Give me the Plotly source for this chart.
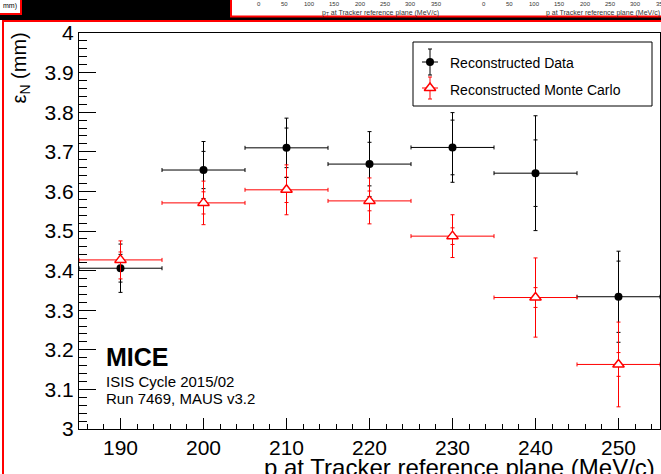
import plotly.graph_objects as go

# ---------------- data ----------------
p_vals = [190, 200, 210, 220, 230, 240, 250]
p_half_width = [5, 5, 5, 5, 5, 5, 5]

data_eps = [3.406, 3.654, 3.710, 3.669, 3.711, 3.646, 3.334]
data_stat = [0.035, 0.047, 0.050, 0.055, 0.069, 0.084, 0.090]
data_tot = [0.061, 0.072, 0.075, 0.082, 0.088, 0.145, 0.115]

mc_eps = [3.427, 3.571, 3.604, 3.576, 3.487, 3.332, 3.163]
mc_stat = [0.020, 0.028, 0.032, 0.025, 0.021, 0.025, 0.030]
mc_tot = [0.048, 0.055, 0.063, 0.058, 0.054, 0.100, 0.107]

y_tickvals = [3.0, 3.1, 3.2, 3.3, 3.4, 3.5, 3.6, 3.7, 3.8, 3.9, 4.0]
y_ticktext = ["3", "3.1", "3.2", "3.3", "3.4", "3.5", "3.6", "3.7", "3.8", "3.9", "4"]
x_tickvals = [190, 200, 210, 220, 230, 240, 250]
x_ticktext = ["190", "200", "210", "220", "230", "240", "250"]

top_tick_labels = ["0", "50", "100", "150", "200", "250", "300", "350"]

# ---------------- layout helpers (pixel -> paper) ----------------
W, H = 661, 474
L, R, T, B = 79, 660, 33, 429


def px(x):
    return (x - L) / (R - L)


def py(y):
    return (B - y) / (B - T)


FONT = "Liberation Sans, Arial, Helvetica, sans-serif"

fig = go.Figure()

# stat (inner) error bars
fig.add_trace(go.Scatter(
    x=p_vals, y=data_eps, mode="markers", showlegend=False,
    marker=dict(color="rgba(0,0,0,0)", size=1),
    error_y=dict(type="data", array=data_stat, color="black", thickness=1, width=2),
))
fig.add_trace(go.Scatter(
    x=p_vals, y=mc_eps, mode="markers", showlegend=False,
    marker=dict(color="rgba(0,0,0,0)", size=1),
    error_y=dict(type="data", array=mc_stat, color="red", thickness=1, width=2),
))
# total errors + markers
fig.add_trace(go.Scatter(
    x=p_vals, y=data_eps, mode="markers", name="Reconstructed Data", showlegend=False,
    marker=dict(color="black", size=8, symbol="circle"),
    error_y=dict(type="data", array=data_tot, color="black", thickness=1, width=2),
    error_x=dict(type="data", array=p_half_width, color="black", thickness=1, width=2),
))
fig.add_trace(go.Scatter(
    x=p_vals, y=mc_eps, mode="markers", name="Reconstructed Monte Carlo", showlegend=False,
    marker=dict(color="white", size=10, symbol="triangle-up",
                line=dict(color="red", width=1.5)),
    error_y=dict(type="data", array=mc_tot, color="red", thickness=1, width=2),
    error_x=dict(type="data", array=p_half_width, color="red", thickness=1, width=2),
))

# legend symbols on a pixel-space overlay axis
fig.add_trace(go.Scatter(
    x=[430], y=[62], xaxis="x2", yaxis="y2", mode="markers", showlegend=False,
    marker=dict(color="black", size=8, symbol="circle"), cliponaxis=False,
    error_y=dict(type="data", array=[13], color="black", thickness=1, width=2),
    error_x=dict(type="data", array=[8], color="black", thickness=1, width=0),
))
fig.add_trace(go.Scatter(
    x=[430], y=[88], xaxis="x2", yaxis="y2", mode="markers", showlegend=False,
    marker=dict(color="white", size=10, symbol="triangle-up",
                line=dict(color="red", width=1.5)), cliponaxis=False,
    error_y=dict(type="data", array=[11], color="red", thickness=1, width=2),
    error_x=dict(type="data", array=[8], color="red", thickness=1, width=0),
))

shapes = []
# top black strip and cut-off panels
shapes.append(dict(type="rect", xref="paper", yref="paper", x0=px(-2), x1=px(663),
                   y0=py(20), y1=py(-2), fillcolor="black", line=dict(width=0)))
shapes.append(dict(type="rect", xref="paper", yref="paper", x0=px(-3), x1=px(21),
                   y0=py(14), y1=py(-3), fillcolor="white", line=dict(color="red", width=2)))
shapes.append(dict(type="rect", xref="paper", yref="paper", x0=px(231), x1=px(665),
                   y0=py(16.5), y1=py(-3), fillcolor="white", line=dict(color="red", width=2)))
# main panel red border
shapes.append(dict(type="rect", xref="paper", yref="paper", x0=px(3), x1=px(666),
                   y0=py(480), y1=py(21), line=dict(color="red", width=2)))
# legend box
shapes.append(dict(type="rect", xref="paper", yref="paper", x0=px(413), x1=px(652),
                   y0=py(106), y1=py(42), line=dict(color="black", width=1)))

annotations = []


def text(x, y, s, size, xanchor="left", yanchor="top", angle=0, color="black"):
    annotations.append(dict(x=px(x), y=py(y), xref="paper", yref="paper", text=s,
                            showarrow=False, xanchor=xanchor, yanchor=yanchor,
                            textangle=angle, font=dict(family=FONT, size=size, color=color)))


text(448, 53, "Reconstructed Data", 14)
text(448, 79.5, "Reconstructed Monte Carlo", 14)
text(104, 341, "<b>MICE</b>", 25)
text(104, 370.5, "ISIS Cycle 2015/02", 15)
text(104, 387.5, "Run 7469, MAUS v3.2", 15)
text(657, 452, "p at Tracker reference plane (MeV/c)", 24, xanchor="right")
text(20, 31, "ε<sub>N</sub> (mm)", 20, xanchor="center", yanchor="top", angle=-90)

# tiny texts of the cut-off panels above
text(1, 0, "mm)", 7)
for i, lab in enumerate(top_tick_labels):
    text(259 + i * 25.3, -1, lab, 6, xanchor="center", color="#333")
    text(484 + i * 25.3, -1, lab, 6, xanchor="center", color="#333")
text(380, 7, "p<sub>T</sub> at Tracker reference plane (MeV/c)", 7, xanchor="center", color="#333")
text(603, 7, "p at Tracker reference plane (MeV/c)", 7, xanchor="center", color="#333")

fig.update_layout(
    width=W, height=H, autosize=False,
    margin=dict(l=L, r=W - R, t=T, b=H - B, pad=0),
    paper_bgcolor="white", plot_bgcolor="white",
    font=dict(family=FONT, color="black"),
    showlegend=False,
    shapes=shapes, annotations=annotations,
    xaxis=dict(range=[185, 255], tickvals=x_tickvals, ticktext=x_ticktext,
               ticks="inside", ticklen=11, tickwidth=1, tickcolor="black",
               minor=dict(ticks="inside", ticklen=5, dtick=2, tick0=0, tickcolor="black", showgrid=False),
               showline=True, linecolor="black", linewidth=1, mirror=True,
               showgrid=False, zeroline=False,
               tickfont=dict(family=FONT, size=21, color="black")),
    yaxis=dict(range=[3, 4], tickvals=y_tickvals, ticktext=y_ticktext,
               ticks="inside", ticklen=17, tickwidth=1, tickcolor="black",
               minor=dict(ticks="inside", ticklen=8, dtick=0.02, tick0=3, tickcolor="black", showgrid=False),
               showline=True, linecolor="black", linewidth=1, mirror=True,
               showgrid=False, zeroline=False,
               tickfont=dict(family=FONT, size=21, color="black")),
    xaxis2=dict(overlaying="x", range=[L, R], visible=False, anchor="y2"),
    yaxis2=dict(overlaying="y", range=[B, T], visible=False, anchor="x2"),
)

fig.write_html("out.html")
